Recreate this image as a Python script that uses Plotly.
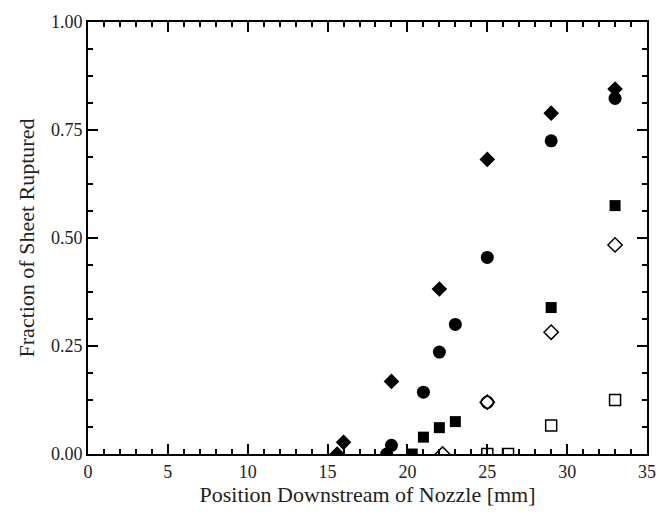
import plotly.graph_objects as go

# Fraction of liquid sheet ruptured vs. downstream position, five test conditions
x_filled_diamond = [15.6, 16.0, 19.0, 22.0, 25.0, 29.0, 33.0]
y_filled_diamond = [0.0, 0.027, 0.168, 0.382, 0.682, 0.789, 0.845]

x_filled_circle = [18.7, 19.0, 21.0, 22.0, 23.0, 25.0, 29.0, 33.0]
y_filled_circle = [0.0, 0.02, 0.143, 0.236, 0.300, 0.455, 0.725, 0.823]

x_filled_square = [20.3, 21.0, 22.0, 23.0, 29.0, 33.0]
y_filled_square = [0.0, 0.039, 0.061, 0.075, 0.339, 0.575]

x_open_diamond = [22.2, 25.0, 29.0, 33.0]
y_open_diamond = [0.0, 0.120, 0.282, 0.484]

x_open_circle = [25.0]
y_open_circle = [0.120]

x_open_square = [25.0, 26.3, 29.0, 33.0]
y_open_square = [0.0, 0.0, 0.066, 0.125]

x_ticks = [0, 5, 10, 15, 20, 25, 30, 35]
y_ticks = [0.0, 0.25, 0.50, 0.75, 1.00]
y_tick_labels = ["0.00", "0.25", "0.50", "0.75", "1.00"]

fig = go.Figure()

def add_series(xs, ys, symbol, size, filled):
    fig.add_trace(go.Scatter(
        x=xs, y=ys, mode="markers", cliponaxis=True,
        marker=dict(
            symbol=symbol if filled else symbol + "-open",
            size=size,
            color="black",
            line=dict(color="black", width=1.5 if not filled else 0),
        ),
        showlegend=False,
    ))

add_series(x_open_square, y_open_square, "square", 11, False)
add_series(x_open_circle, y_open_circle, "circle", 12, False)
add_series(x_open_diamond, y_open_diamond, "diamond", 11, False)
add_series(x_filled_square, y_filled_square, "square", 11, True)
add_series(x_filled_circle, y_filled_circle, "circle", 13, True)
add_series(x_filled_diamond, y_filled_diamond, "diamond", 12, True)

serif = "Liberation Serif, Times New Roman, serif"

fig.update_xaxes(
    range=[0, 35], tickvals=x_ticks, ticks="inside", ticklen=10, tickwidth=1.5,
    tickcolor="black", showline=True, linecolor="black", linewidth=2,
    mirror="ticks", showgrid=False, zeroline=False,
    minor=dict(dtick=1, ticks="inside", ticklen=5, tickwidth=1.5, tickcolor="black", showgrid=False),
    tickfont=dict(family=serif, size=18, color="#222"),
    title=dict(text="Position Downstream of Nozzle [mm]", font=dict(family=serif, size=22, color="#222"), standoff=6),
)
fig.update_yaxes(
    range=[0, 1], tickvals=y_ticks, ticktext=y_tick_labels, ticks="inside", ticklen=10,
    tickwidth=1.5, tickcolor="black", showline=True, linecolor="black", linewidth=2,
    mirror="ticks", showgrid=False, zeroline=False,
    minor=dict(dtick=0.0625, ticks="inside", ticklen=5, tickwidth=1.5, tickcolor="black", showgrid=False),
    tickfont=dict(family=serif, size=18, color="#222"),
    title=dict(text="Fraction of Sheet Ruptured", font=dict(family=serif, size=22, color="#222"), standoff=10),
)

fig.update_layout(
    width=669, height=515,
    margin=dict(l=88, r=22, t=16, b=59),
    plot_bgcolor="white", paper_bgcolor="white",
)

fig.write_html("out.html")
